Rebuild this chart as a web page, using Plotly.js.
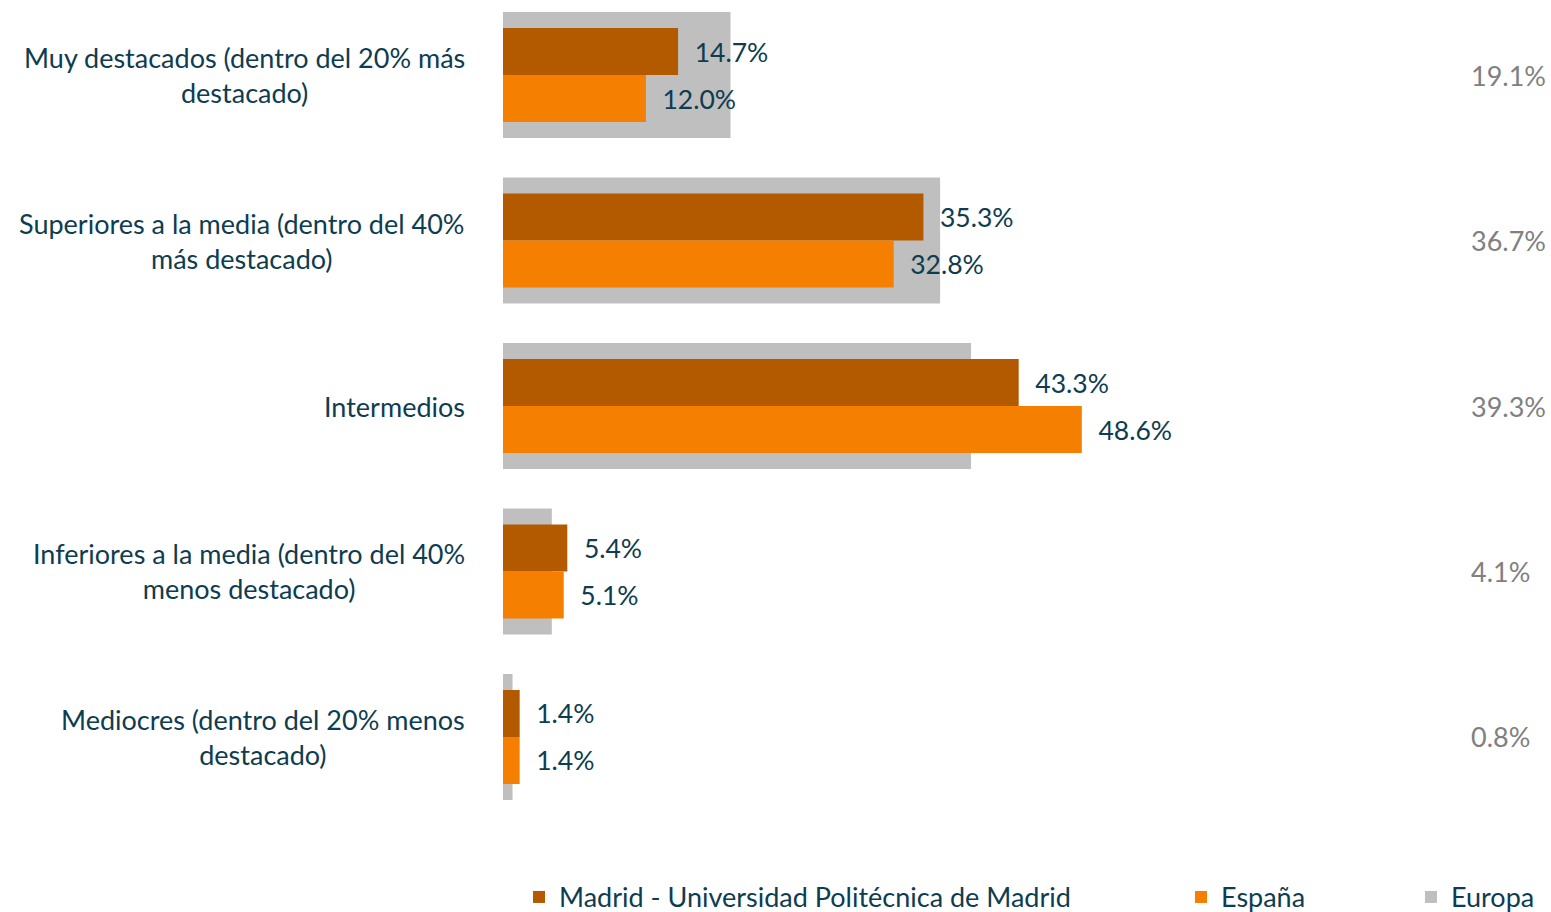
<!DOCTYPE html>
<html>
<head>
<meta charset="utf-8">
<script src="https://cdn.plot.ly/plotly-3.0.1.min.js"></script>
<style>html,body{margin:0;padding:0;background:#fff;}#chart{width:1551px;height:912px;}</style>
</head>
<body>
<div id="chart"></div>
<script>
const categories = [
  "Muy destacados (dentro del 20% más<br>destacado)",
  "Superiores a la media (dentro del 40%<br>más destacado)",
  "Intermedios",
  "Inferiores a la media (dentro del 40%<br>menos destacado)",
  "Mediocres (dentro del 20% menos<br>destacado)"
];
const madrid = [14.7, 35.3, 43.3, 5.4, 1.4];
const espana = [12.0, 32.8, 48.6, 5.1, 1.4];
const europa = [19.1, 36.7, 39.3, 4.1, 0.8];
const seriesNames = ["Madrid - Universidad Politécnica de Madrid", "España", "Europa"];

const FONT = "Lato, 'Open Sans', sans-serif";
const TXT = "#0E3C50";
const fmt = v => "\u00a0\u00a0" + v.toFixed(1) + "%";

const traces = [
  {type:"bar", orientation:"h", y:categories, x:europa, name:seriesNames[2],
   marker:{color:"#BFBFBF"}, width:0.761, offset:-0.3805, textposition:"none",
   legend:"legend3", hoverinfo:"skip"},
  {type:"bar", orientation:"h", y:categories, x:madrid, name:seriesNames[0],
   marker:{color:"#B35A00"}, width:0.284, offset:-0.284,
   text:madrid.map(fmt), textposition:"outside", cliponaxis:false, constraintext:"none",
   textfont:{family:FONT, size:26.5, color:TXT}, legend:"legend", hoverinfo:"skip"},
  {type:"bar", orientation:"h", y:categories, x:espana, name:seriesNames[1],
   marker:{color:"#F57F00"}, width:0.284, offset:0,
   text:espana.map(fmt), textposition:"outside", cliponaxis:false, constraintext:"none",
   textfont:{family:FONT, size:26.5, color:TXT}, legend:"legend2", hoverinfo:"skip"}
];

const annotations = [];
categories.forEach((c, i) => {
  annotations.push({xref:"paper", yref:"y", x:-0.0345, y:c, xanchor:"right", yanchor:"middle",
    align:"center", text:c, showarrow:false, font:{family:FONT, size:27, color:TXT}});
  annotations.push({xref:"paper", yref:"y", x:0.9275, y:c, xanchor:"left", yanchor:"middle",
    align:"left", text:europa[i].toFixed(1) + "%", showarrow:false, font:{family:FONT, size:27, color:"#808080"}});
});

const legBase = {orientation:"h", xref:"container", yref:"container", yanchor:"middle", y:0.016,
  font:{family:FONT, size:27, color:TXT}, bgcolor:"rgba(0,0,0,0)", itemclick:false, itemdoubleclick:false};

const layout = {
  width:1551, height:912,
  margin:{l:503, r:6, t:5, b:82},
  paper_bgcolor:"#fff", plot_bgcolor:"#fff",
  barmode:"overlay",
  showlegend:true,
  xaxis:{range:[0, 87.49], showgrid:false, zeroline:false, showticklabels:false, showline:false, ticks:""},
  yaxis:{type:"category", range:[4.562, -0.423], showgrid:false, zeroline:false, showticklabels:false, showline:false, ticks:""},
  annotations:annotations,
  legend:Object.assign({}, legBase, {x:519/1551, xanchor:"left"}),
  legend2:Object.assign({}, legBase, {x:1181/1551, xanchor:"left"}),
  legend3:Object.assign({}, legBase, {x:1411/1551, xanchor:"left"}),
  hovermode:false
};

Plotly.newPlot("chart", traces, layout, {displayModeBar:false, staticPlot:true});
</script>
</body>
</html>
